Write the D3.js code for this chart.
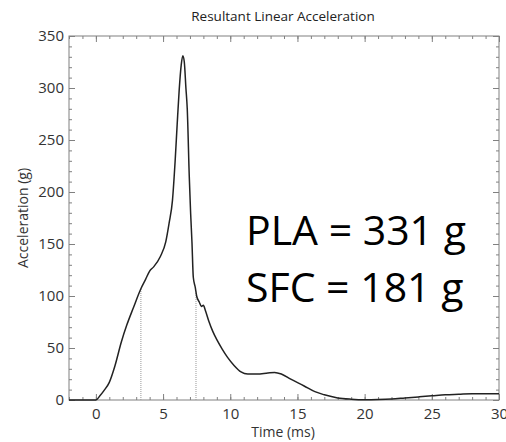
<!DOCTYPE html>
<html>
<head>
<meta charset="utf-8">
<script src="https://cdn.jsdelivr.net/npm/d3@7"></script>
<style>
    body { margin: 0; background: #fff; }
    svg { display: block; font-family: 'Open Sans', sans-serif; }
</style>
</head>
<body>
<div id="chart"></div>
<script>
(function () {
    const timeMs = [-2, -1, 0, 0.3, 0.6, 1.0, 1.4, 1.9, 2.3, 2.8, 3.35, 3.7, 4.0, 4.3, 4.8, 5.2, 5.45, 5.7, 5.9, 6.05, 6.2, 6.35, 6.47,
        6.58, 6.7, 6.8, 6.95, 7.05, 7.15, 7.25, 7.4, 7.5, 7.7, 7.85, 8.0, 8.15, 8.4, 8.7, 9.0, 9.4, 9.8, 10.3, 10.8, 11.3, 12.0,
        12.8, 13.3, 13.8, 14.5, 15.5, 16.3, 17, 18, 19, 20, 21, 22, 23, 24, 25, 26, 27, 28, 29, 30];
    const accelG = [0, 0, 0, 4, 9, 17, 32, 56, 72, 89, 107, 116, 124, 128, 138, 152, 170, 192, 230, 265, 298, 322, 331,
        325, 300, 280, 215, 180, 152, 118, 108, 100, 94, 90, 91, 86, 76, 66, 58, 49, 41, 33, 27, 25, 25,
        26, 26.5, 25, 20, 13.5, 8, 5, 2, 0.8, 0.3, 0.5, 1, 2, 3, 4, 5, 5.5, 6, 6, 6];
    const markerTimes = [3.35, 7.45];
    const xTickLabels = [0, 5, 10, 15, 20, 25, 30];
    const yTickLabels = [0, 50, 100, 150, 200, 250, 300, 350];
    const resultLines = ['PLA = 331 g', 'SFC = 181 g'];

    const width = 506, height = 442;
    const margin = { left: 69, right: 7, top: 36, bottom: 42 };

    const svg = d3.select('#chart')
        .append('svg')
        .attr('width', width)
        .attr('height', height);

    const x = d3.scaleLinear().domain([-2, 30]).range([margin.left, width - margin.right]);
    const y = d3.scaleLinear().domain([0, 350]).range([height - margin.bottom, margin.top]);

    const axisColor = '#808080';
    const styleAxis = sel => {
        sel.select('.domain').remove();
        sel.selectAll('line').attr('stroke', axisColor);
        sel.selectAll('text')
            .attr('fill', '#333')
            .style('font-size', '15px')
            .style('font-family', "'Open Sans', sans-serif");
    };

    const minorX = d3.range(-2, 31, 1);
    const minorY = d3.range(0, 351, 10);

    // ticks point inward on all four sides, labels only on bottom and left
    const addAxes = (axisFn, scale, pos, minor, major, showText, padding) => {
        svg.append('g').attr('transform', pos)
            .call(axisFn(scale).tickValues(minor).tickSize(-3).tickFormat(''))
            .call(styleAxis);
        svg.append('g').attr('transform', pos)
            .call(axisFn(scale).tickValues(major).tickSize(-6).tickPadding(padding)
                .tickFormat(showText ? d3.format('d') : ''))
            .call(styleAxis);
    };

    addAxes(d3.axisBottom, x, `translate(0,${y(0)})`, minorX, xTickLabels, true, 8);
    addAxes(d3.axisTop, x, `translate(0,${y(350)})`, minorX, xTickLabels, false, 3);
    addAxes(d3.axisLeft, y, `translate(${x(-2)},0)`, minorY, yTickLabels, true, 5);
    addAxes(d3.axisRight, y, `translate(${x(30)},0)`, minorY, yTickLabels, false, 3);

    svg.append('rect')
        .attr('x', x(-2))
        .attr('y', y(350))
        .attr('width', x(30) - x(-2))
        .attr('height', y(0) - y(350))
        .attr('fill', 'none')
        .attr('stroke', axisColor)
        .attr('stroke-width', 1);

    const points = timeMs.map((t, i) => [t, accelG[i]]);
    const valueAt = t => {
        const i = d3.bisector(d => d[0]).left(points, t);
        const [t0, a0] = points[i - 1], [t1, a1] = points[i];
        return a0 + (a1 - a0) * (t - t0) / (t1 - t0);
    };

    svg.append('g')
        .selectAll('line')
        .data(markerTimes)
        .enter()
        .append('line')
        .attr('x1', d => x(d))
        .attr('x2', d => x(d))
        .attr('y1', y(0))
        .attr('y2', d => y(valueAt(d)))
        .attr('stroke', '#999')
        .attr('stroke-width', 1)
        .attr('stroke-dasharray', '1,1');

    const line = d3.line()
        .x(d => x(d[0]))
        .y(d => y(d[1]))
        .curve(d3.curveMonotoneX);

    svg.append('path')
        .datum(points)
        .attr('d', line)
        .attr('fill', 'none')
        .attr('stroke', '#222')
        .attr('stroke-width', 1.5);

    svg.append('text')
        .attr('x', 283)
        .attr('y', 21)
        .attr('text-anchor', 'middle')
        .attr('fill', '#222')
        .style('font-size', '13.5px')
        .text('Resultant Linear Acceleration');

    svg.append('text')
        .attr('x', 283)
        .attr('y', 437)
        .attr('text-anchor', 'middle')
        .attr('fill', '#333')
        .style('font-size', '14px')
        .text('Time (ms)');

    svg.append('text')
        .attr('transform', `translate(28,${(y(0) + y(350)) / 2}) rotate(-90)`)
        .attr('text-anchor', 'middle')
        .attr('fill', '#333')
        .style('font-size', '14px')
        .text('Acceleration (g)');

    svg.append('g')
        .selectAll('text')
        .data(resultLines)
        .enter()
        .append('text')
        .attr('x', 246)
        .attr('y', (d, i) => 245 + i * 57)
        .attr('fill', '#000')
        .style('font-size', '41px')
        .text(d => d);
})();
</script>
</body>
</html>
